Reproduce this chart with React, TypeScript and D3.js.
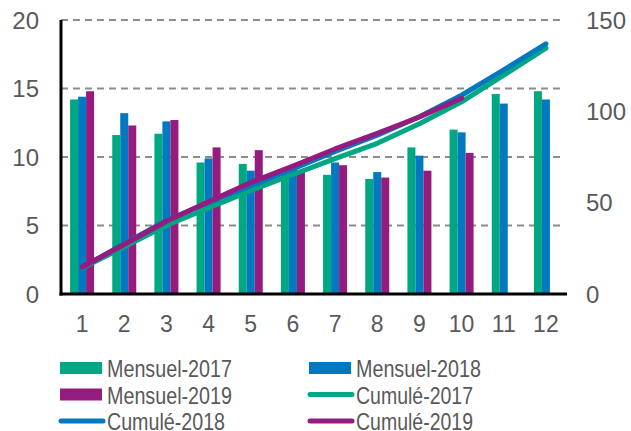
import * as d3 from "d3";

const months = ["1", "2", "3", "4", "5", "6", "7", "8", "9", "10", "11", "12"];
const mensuel2017 = [14.2, 11.6, 11.7, 9.6, 9.5, 8.8, 8.7, 8.4, 10.7, 12.0, 14.6, 14.8];
const mensuel2018 = [14.4, 13.2, 12.6, 9.9, 9.0, 9.3, 9.6, 8.9, 10.1, 11.8, 13.9, 14.2];
const mensuel2019 = [14.8, 12.3, 12.7, 10.7, 10.5, 9.0, 9.4, 8.5, 9.0, 10.3];
const cumul2017 = [14.2, 25.8, 37.5, 47.1, 56.6, 65.4, 74.1, 82.5, 93.2, 105.2, 119.8, 134.6];
const cumul2018 = [14.4, 27.6, 40.2, 50.1, 59.1, 68.4, 78.0, 86.9, 97.0, 108.8, 122.7, 136.9];
const cumul2019 = [14.8, 27.1, 39.8, 50.5, 61.0, 70.0, 79.4, 87.9, 96.9, 107.2];
const leftTicks = [0, 5, 10, 15, 20];
const rightTicks = [0, 50, 100, 150];

const GREEN = "#00a783";
const BLUE = "#0079c1";
const PURPLE = "#951b7f";
const TEXT = "#595959";

const bars = [
  { key: "2017", values: mensuel2017, color: GREEN },
  { key: "2018", values: mensuel2018, color: BLUE },
  { key: "2019", values: mensuel2019, color: PURPLE },
];
const lines = [
  { key: "2017", values: cumul2017, color: GREEN },
  { key: "2018", values: cumul2018, color: BLUE },
  { key: "2019", values: cumul2019, color: PURPLE },
];
const legend = [
  { label: "Mensuel-2017", color: GREEN, type: "bar", w: 125 },
  { label: "Mensuel-2018", color: BLUE, type: "bar", w: 125 },
  { label: "Mensuel-2019", color: PURPLE, type: "bar", w: 125 },
  { label: "Cumulé-2017", color: GREEN, type: "line", w: 117 },
  { label: "Cumulé-2018", color: BLUE, type: "line", w: 118 },
  { label: "Cumulé-2019", color: PURPLE, type: "line", w: 117 },
];

export default function App() {
  const width = 631;
  const height = 431;
  const left = 61;
  const right = 567;
  const top = 20;
  const bottom = 294;

  const x = d3.scaleBand().domain(months).range([left, right]).padding(0);
  const inner = d3.scaleBand().domain(["2017", "2018", "2019"]).range([0, 24]);
  const y = d3.scaleLinear().domain([0, 20]).range([bottom, top]);
  const y2 = d3.scaleLinear().domain([0, 150]).range([bottom, top]);

  const line = d3
    .line<number>()
    .x((_, i) => (x(months[i]) as number) + x.bandwidth() / 2)
    .y((d) => y2(d));

  return (
    <svg
      width={width}
      height={height}
      style={{ position: "absolute", left: 0, top: 0, fontFamily: "'Liberation Sans', Arial, sans-serif" }}
    >
      {leftTicks.filter((t) => t > 0).map((t) => (
        <line key={t} x1={left} x2={565} y1={y(t)} y2={y(t)} stroke="#8c8c8c" strokeWidth={2} strokeDasharray="7 5" />
      ))}

      {bars.map((s) =>
        s.values.map((v, i) => (
          <rect
            key={s.key + i}
            x={(x(months[i]) as number) + x.bandwidth() / 2 - 12 + (inner(s.key) as number)}
            y={y(v)}
            width={inner.bandwidth()}
            height={bottom - y(v)}
            fill={s.color}
          />
        ))
      )}

      {lines.map((s) => (
        <path key={s.key} d={line(s.values) || ""} fill="none" stroke={s.color} strokeWidth={5} strokeLinecap="round" strokeLinejoin="round" />
      ))}

      <line x1={left} x2={left} y1={top} y2={bottom + 1.5} stroke="#000" strokeWidth={3} />
      <line x1={left - 1.5} x2={right} y1={bottom} y2={bottom} stroke="#000" strokeWidth={3} />

      {leftTicks.map((t) => (
        <text key={t} x={39} y={y(t) + 8.5} textAnchor="end" fontSize={24} fill={TEXT}>{t}</text>
      ))}
      {rightTicks.map((t) => (
        <text key={t} x={586} y={y2(t) + 8.5} fontSize={24} fill={TEXT}>{t}</text>
      ))}
      {months.map((m) => (
        <text key={m} x={(x(m) as number) + x.bandwidth() / 2} y={332} textAnchor="middle" fontSize={23} fill={TEXT}>{m}</text>
      ))}

      {legend.map((l, i) => {
        const col = i % 2;
        const row = Math.floor(i / 2);
        const sx = col === 0 ? 60 : 309;
        const cy = 368 + row * 26.5;
        return (
          <g key={l.label}>
            {l.type === "bar" ? (
              <rect x={sx} y={cy - 6} width={42} height={12} fill={l.color} />
            ) : (
              <line x1={sx + 1} x2={sx + 43} y1={cy} y2={cy} stroke={l.color} strokeWidth={5} strokeLinecap="round" />
            )}
            <text x={sx + 47} y={cy + 9} fontSize={24} fill={TEXT} textLength={l.w} lengthAdjust="spacingAndGlyphs">{l.label}</text>
          </g>
        );
      })}
    </svg>
  );
}
